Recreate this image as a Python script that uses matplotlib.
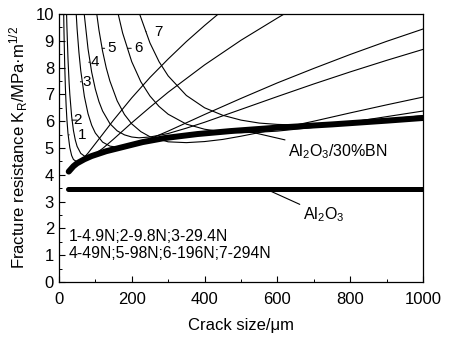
import numpy as np
import matplotlib
matplotlib.use("Agg")
import matplotlib.pyplot as plt

plt.rcParams['font.family'] = ['Liberation Sans', 'DejaVu Sans']
plt.rcParams['mathtext.fontset'] = 'custom'
plt.rcParams['mathtext.rm'] = 'Liberation Sans'
plt.rcParams['mathtext.it'] = 'Liberation Sans'

# R-curve Al2O3/30%BN
c_bn = [27, 40, 50, 70, 90, 130, 180, 230, 290, 380, 470, 600, 750, 900, 1000]
k_bn = [4.12, 4.32, 4.43, 4.58, 4.70, 4.88, 5.05, 5.22, 5.37, 5.52, 5.63, 5.76, 5.88, 6.02, 6.12]

# Al2O3 (flat)
c_al = [25, 1000]
k_al = [3.47, 3.47]

# applied K curves for loads 1..7
c1 = [12, 13, 14, 16, 18, 20, 22, 25, 30, 35, 40, 50, 60, 70, 80, 100, 120, 150, 200, 250, 300, 350, 400, 450]
k1 = [11.15, 10.14, 9.32, 8.08, 7.19, 6.55, 6.06, 5.54, 5.01, 4.72, 4.57, 4.48, 4.54, 4.66, 4.81, 5.16, 5.51, 6.04, 6.87, 7.63, 8.32, 8.97, 9.57, 10.14]

c2 = [20, 22, 25, 28, 30, 35, 40, 45, 50, 60, 70, 80, 90, 100, 120, 150, 200, 250, 300, 400, 500, 600, 650]
k2 = [10.62, 9.53, 8.32, 7.45, 7.00, 6.18, 5.65, 5.30, 5.06, 4.80, 4.70, 4.68, 4.72, 4.79, 4.98, 5.33, 5.94, 6.52, 7.08, 8.10, 9.02, 9.85, 10.25]

c3 = [45, 50, 55, 60, 70, 80, 90, 100, 120, 140, 160, 180, 200, 250, 300, 400, 500, 600, 700, 800, 900, 1000]
k3 = [10.60, 9.44, 8.57, 7.89, 6.92, 6.28, 5.85, 5.56, 5.22, 5.07, 5.03, 5.05, 5.11, 5.34, 5.63, 6.25, 6.85, 7.43, 7.97, 8.49, 8.98, 9.44]

c4 = [65, 70, 80, 90, 100, 110, 120, 140, 160, 180, 200, 220, 250, 300, 350, 400, 500, 600, 700, 800, 900, 1000]
k4 = [10.76, 9.94, 8.70, 7.83, 7.20, 6.73, 6.38, 5.91, 5.64, 5.49, 5.41, 5.38, 5.41, 5.54, 5.74, 5.96, 6.44, 6.92, 7.39, 7.84, 8.27, 8.68]

c5 = [100, 110, 120, 130, 140, 160, 180, 200, 225, 250, 300, 350, 400, 450, 500, 600, 700, 800, 900, 1000]
k5 = [10.40, 9.40, 8.61, 7.99, 7.50, 6.76, 6.25, 5.90, 5.61, 5.42, 5.23, 5.20, 5.24, 5.32, 5.44, 5.71, 6.00, 6.31, 6.61, 6.90]

c6 = [150, 160, 175, 200, 225, 250, 275, 300, 350, 400, 450, 500, 550, 600, 700, 800, 900, 1000]
k6 = [10.88, 10.16, 9.29, 8.22, 7.47, 6.94, 6.55, 6.26, 5.89, 5.70, 5.60, 5.57, 5.59, 5.63, 5.77, 5.96, 6.17, 6.38]

c7 = [200, 220, 250, 275, 300, 350, 400, 450, 500, 550, 600, 650, 700, 750, 800, 900, 1000]
k7 = [11.09, 10.06, 8.92, 8.22, 7.69, 6.96, 6.50, 6.22, 6.04, 5.93, 5.88, 5.86, 5.87, 5.90, 5.95, 6.07, 6.21]

curves = [(c1, k1), (c2, k2), (c3, k3), (c4, k4), (c5, k5), (c6, k6), (c7, k7)]

# label number, point on curve, text position
lab_names = ['1', '2', '3', '4', '5', '6', '7']
lab_pts = [(27, 5.49), (36, 6.04), (59, 7.47), (82, 8.2), (119, 8.72), (188, 8.72), (239, 9.34)]
lab_txt = [(63, 5.49), (50, 6.04), (77, 7.47), (100, 8.2), (145, 8.72), (218, 8.72), (274, 9.34)]

fig = plt.figure(figsize=(4.53, 3.41), dpi=100)
ax = fig.add_axes([0.130, 0.173, 0.804, 0.786])

for c, k in curves:
    ax.plot(c, k, color='black', lw=0.8)

ax.plot(c_bn, k_bn, color='black', lw=4.3, solid_capstyle='round')
ax.plot(c_al, k_al, color='black', lw=3.6, solid_capstyle='round')

for name, p, t in zip(lab_names, lab_pts, lab_txt):
    ax.annotate(name, xy=p, xytext=t, fontsize=11, va='center', ha='center',
                arrowprops=dict(arrowstyle='-', lw=0.7, shrinkA=4, shrinkB=0))

ax.annotate('Al$_2$O$_3$/30%BN', xy=(523, 5.61), xytext=(628, 4.85), fontsize=11.5,
            va='center', ha='left',
            arrowprops=dict(arrowstyle='-', lw=0.8, shrinkA=0, shrinkB=0))
ax.annotate('Al$_2$O$_3$', xy=(578, 3.41), xytext=(669, 2.5), fontsize=11.5,
            va='center', ha='left',
            arrowprops=dict(arrowstyle='-', lw=0.8, shrinkA=0, shrinkB=0))

ax.text(27, 1.69, '1-4.9N;2-9.8N;3-29.4N', fontsize=11.3, va='center')
ax.text(27, 1.07, '4-49N;5-98N;6-196N;7-294N', fontsize=11.3, va='center')

ax.set_xlim(0, 1000)
ax.set_ylim(0, 10)
ax.set_xticks(np.arange(0, 1001, 200))
ax.set_xticks(np.arange(0, 1001, 100), minor=True)
ax.set_yticks(np.arange(0, 11, 1))
ax.set_yticks(np.arange(0, 10.01, 0.5), minor=True)
ax.tick_params(direction='in', labelsize=12, length=4, width=0.8)
ax.tick_params(axis='x', pad=7)
ax.tick_params(which='minor', direction='in', length=2, width=0.7)
for s in ax.spines.values():
    s.set_linewidth(0.9)

ax.set_xlabel('Crack size/μm', fontsize=12, labelpad=8)
ax.set_ylabel('Fracture resistance K$_R$/MPa·m$^{1/2}$', fontsize=12)

fig.savefig('out.png', dpi=100)
